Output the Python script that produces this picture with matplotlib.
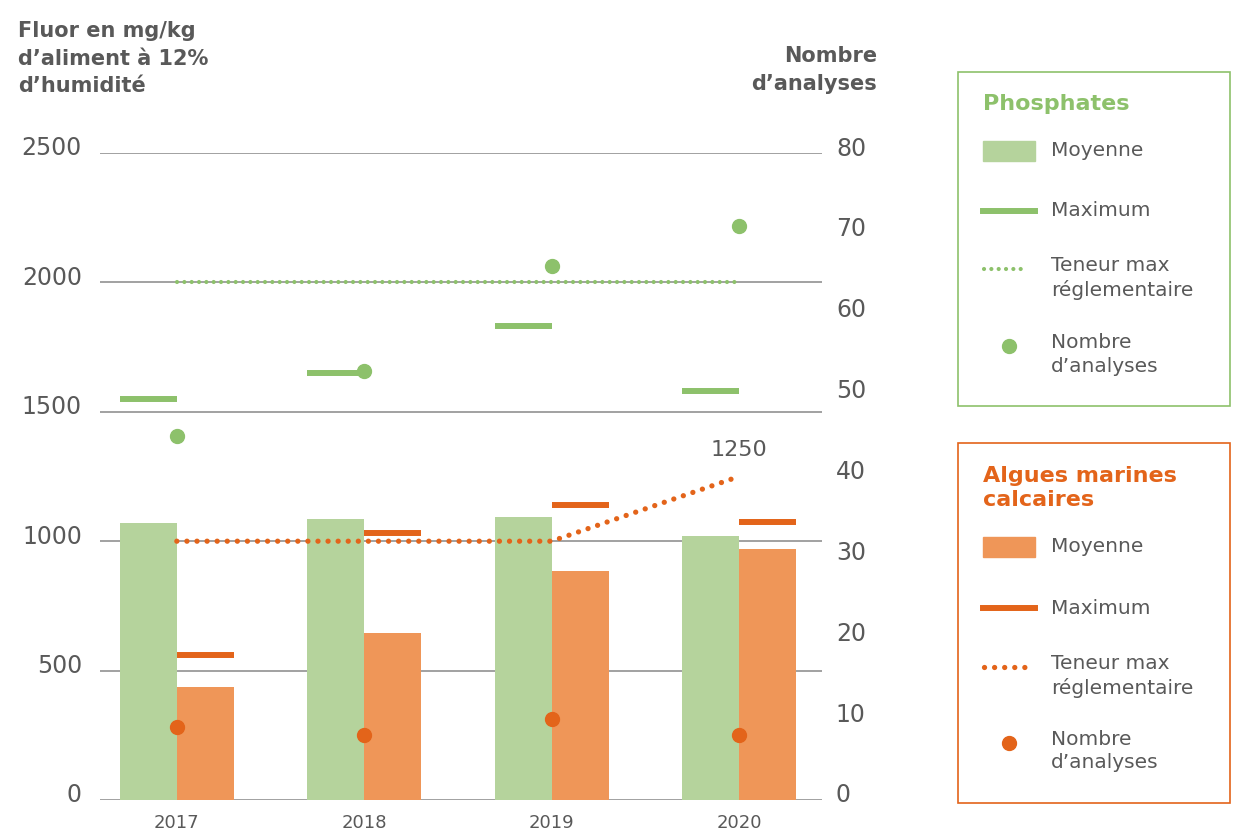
import numpy as np
import matplotlib.pyplot as plt
from matplotlib.lines import Line2D
from matplotlib.patches import Rectangle
from matplotlib.transforms import ScaledTranslation

plt.rcParams['font.family'] = ['DejaVu Sans']

years = ['2017', '2018', '2019', '2020']
phos_mean = [1070, 1086, 1094, 1020]
phos_max = [1549, 1650, 1832, 1580]
phos_count = [45, 53, 66, 71]
phos_reg = [2000, 2000, 2000, 2000]

alg_mean = [437, 645, 885, 970]
alg_max = [560, 1032, 1140, 1074]
alg_count = [9, 8, 10, 8]
alg_reg = [1000, 1000, 1000, 1250]

LG = '#b5d39c'   # light green bars
G = '#8dc16b'    # green marks
LO = '#ef9658'   # light orange bars
O = '#e3641a'    # orange marks
GRAY = '#595959'

W, H = 1236, 833
fig = plt.figure(figsize=(W / 100, H / 100), dpi=100)
ax = fig.add_axes([100 / W, 33 / H, 722 / W, 647 / H])
ax2 = ax.twinx()

x = np.arange(len(years))
bw = 0.304

ax.bar(x - bw / 2, phos_mean, bw, color=LG, zorder=2)
ax.bar(x + bw / 2, alg_mean, bw, color=LO, zorder=2)
ax.hlines(phos_max, x - bw, x, color=G, lw=4.3, zorder=3)
ax.hlines(alg_max, x, x + bw, color=O, lw=4.3, zorder=3)

ax.plot(x, phos_reg, color=G, lw=3.0, linestyle=(0, (0.01, 1.75)),
        dash_capstyle='round', zorder=4)
ax.plot(x, alg_reg, color=O, lw=3.8, linestyle=(0, (0.01, 1.9)),
        dash_capstyle='round', zorder=4)
ax.annotate(str(alg_reg[-1]), (x[-1], alg_reg[-1]), xytext=(0, 12),
            textcoords='offset points', ha='center', va='bottom',
            fontsize=16, color=GRAY)

ax2.plot(x, phos_count, 'o', color=G, ms=10, zorder=5)
ax2.plot(x, alg_count, 'o', color=O, ms=10, zorder=5)

ax.set_xlim(-0.41, 3.443)
ax.set_ylim(0, 2500)
ax2.set_ylim(0, 80)
ax.set_yticks(np.arange(0, 2501, 500))
ax2.set_yticks(np.arange(0, 81, 10))
ax.set_xticks(x)
ax.set_xticklabels(years)
ax.yaxis.grid(True, color='#9a9a9a', lw=1.3, zorder=1)
ax.set_axisbelow(True)
for a in (ax, ax2):
    for s in a.spines.values():
        s.set_visible(False)
    a.tick_params(length=0, labelsize=17, labelcolor=GRAY)
ax.tick_params(axis='y', pad=13)
ax2.tick_params(axis='y', pad=10)
ax.tick_params(axis='x', pad=10, labelsize=13)
lift = ScaledTranslation(0, 7 / 100, fig.dpi_scale_trans)
for lab in ax.get_yticklabels() + ax2.get_yticklabels():
    lab.set_transform(lab.get_transform() + lift)
ax2.set_zorder(ax.get_zorder() + 1)
ax2.patch.set_visible(False)

fig.text(18 / W, 1 - 21 / H, "Fluor en mg/kg\nd\u2019aliment à 12%\nd\u2019humidité",
         ha='left', va='top', fontsize=15, color=GRAY, fontweight='bold',
         linespacing=1.47)
fig.text(877 / W, 1 - 46 / H, "Nombre\nd\u2019analyses",
         ha='right', va='top', fontsize=15, color=GRAY, fontweight='bold',
         linespacing=1.5, multialignment='right')


def fx(px):
    return px / W


def fy(py):
    return 1 - py / H


def legend_box(top, bottom, color, title, title_y):
    fig.patches.append(Rectangle((fx(958), fy(bottom)), fx(1230) - fx(958),
                                 fy(top) - fy(bottom), transform=fig.transFigure,
                                 fill=False, edgecolor=color, lw=1.2))
    fig.text(fx(983), fy(title_y), title, ha='left', va='center', fontsize=16,
             fontweight='bold', color=color, linespacing=1.3)


def legend_rows(ys, light, dark, lw_dot, dash):
    y1, y2, y3, y4 = ys
    fig.patches.append(Rectangle((fx(983), fy(y1 + 10)), fx(1035) - fx(983),
                                 fy(y1 - 10) - fy(y1 + 10),
                                 transform=fig.transFigure, color=light))
    fig.text(fx(1051), fy(y1), 'Moyenne', va='center', fontsize=14.5, color=GRAY)
    fig.lines.append(Line2D([fx(983), fx(1035)], [fy(y2), fy(y2)],
                            transform=fig.transFigure, color=dark, lw=4.3))
    fig.text(fx(1051), fy(y2), 'Maximum', va='center', fontsize=14.5, color=GRAY)
    fig.lines.append(Line2D([fx(984), fx(1027)], [fy(y3), fy(y3)],
                            transform=fig.transFigure, color=dark, lw=lw_dot,
                            linestyle=(0, (0.01, dash)), dash_capstyle='round'))
    fig.text(fx(1051), fy(y3 - 13), 'Teneur max\nréglementaire', va='top',
             fontsize=14.5, color=GRAY, linespacing=1.3)
    fig.lines.append(Line2D([fx(1009)], [fy(y4)], transform=fig.transFigure,
                            marker='o', ms=10, color=dark, lw=0))
    fig.text(fx(1051), fy(y4 - 13), 'Nombre\nd\u2019analyses', va='top',
             fontsize=14.5, color=GRAY, linespacing=1.3)


legend_box(72, 406, G, 'Phosphates', 104)
legend_rows((151, 211, 269, 346), LG, G, 3.0, 1.75)
legend_box(443, 803, O, 'Algues marines\ncalcaires', 488)
legend_rows((547, 608, 667, 743), LO, O, 3.8, 1.9)

fig.savefig('out.png', dpi=100)
